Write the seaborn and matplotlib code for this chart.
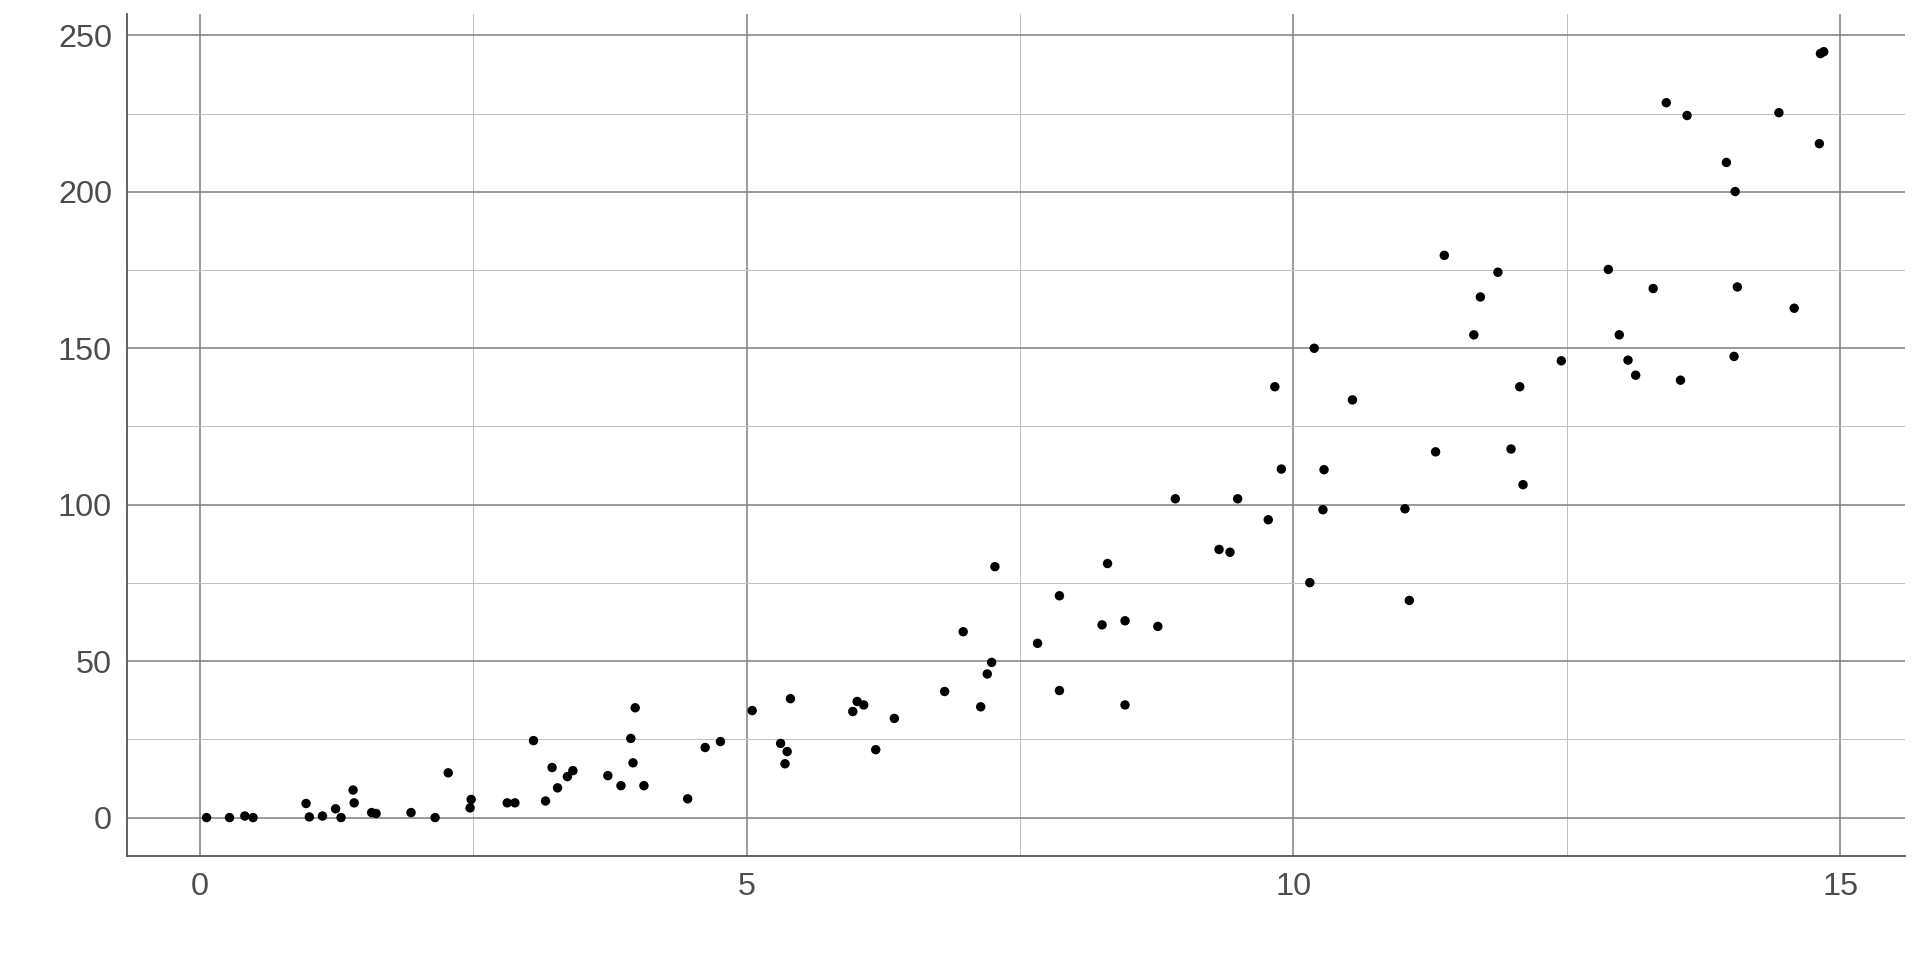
import matplotlib
matplotlib.use("Agg")
import matplotlib.pyplot as plt
from matplotlib.ticker import MultipleLocator
import seaborn as sns
import pandas as pd

x_vals = [0.06, 0.27, 0.41, 0.485, 0.97, 1.00, 1.12, 1.24, 1.29, 1.40, 1.41, 1.57, 1.61, 1.93,
          2.15, 2.27, 2.47, 2.48, 2.81, 2.88, 3.05, 3.16, 3.22, 3.27, 3.36, 3.41, 3.73, 3.85,
          3.94, 3.96, 3.98,
          4.06, 4.46, 4.62, 4.76, 5.05, 5.31, 5.37, 5.35, 5.40, 5.97, 6.01, 6.07, 6.18, 6.35,
          6.81, 6.98, 7.14, 7.20, 7.24, 7.27, 7.66, 7.86, 7.86, 8.25, 8.30, 8.46, 8.46, 8.76,
          8.92, 9.32, 9.42, 9.49, 9.77,
          10.27, 10.15, 11.02, 11.06, 12.10,
          14.82, 14.85, 13.41, 13.60, 14.44, 14.81, 13.96, 14.04, 11.38, 11.87, 11.71, 12.88,
          13.29, 14.06, 14.58, 11.65, 12.98, 10.19, 12.45, 13.06, 14.03, 13.13, 13.54, 9.83,
          10.54, 12.07, 11.30, 11.99, 9.89, 10.28]
y_vals = [0.0, 0.0, 0.5, 0.0, 4.5, 0.2, 0.5, 2.8, 0.0, 8.8, 4.7, 1.6, 1.3, 1.6,
          0.0, 14.3, 3.1, 5.8, 4.7, 4.7, 24.6, 5.3, 16.0, 9.5, 13.1, 15.0, 13.4, 10.2,
          25.3, 17.5, 35.1,
          10.2, 6.0, 22.4, 24.3, 34.2, 23.7, 21.1, 17.2, 38.0, 33.9, 37.1, 36.0, 21.7, 31.7,
          40.3, 59.4, 35.4, 45.9, 49.6, 80.2, 55.7, 70.9, 40.6, 61.6, 81.2, 62.9, 36.0, 61.1,
          101.9, 85.7, 84.8, 101.9, 95.2,
          98.4, 75.1, 98.7, 69.4, 106.4,
          244.2, 244.8, 228.5, 224.4, 225.3, 215.4, 209.4, 200.1, 179.7, 174.3, 166.4, 175.2,
          169.1, 169.6, 162.8, 154.3, 154.3, 150.0, 146.0, 146.2, 147.4, 141.4, 139.8, 137.7,
          133.5, 137.7, 116.9, 117.8, 111.4, 111.2]

x_ticks = [0, 5, 10, 15]
y_ticks = [0, 50, 100, 150, 200, 250]

df = pd.DataFrame({"x": x_vals, "y": y_vals})

sns.set_theme(style="white")
plt.rcParams["font.family"] = ["Liberation Sans", "DejaVu Sans"]

fig = plt.figure(figsize=(19.2, 9.6), dpi=100)
ax = fig.add_axes([0.0663, 0.1086, 0.9257, 0.877])

sns.scatterplot(data=df, x="x", y="y", ax=ax, color="black", s=46,
                edgecolor="none", linewidth=0, zorder=3)

ax.set_xlim(-0.665, 15.59)
ax.set_ylim(-12.2, 256.9)
ax.set_xticks(x_ticks)
ax.set_yticks(y_ticks)
ax.xaxis.set_minor_locator(MultipleLocator(2.5))
ax.yaxis.set_minor_locator(MultipleLocator(25))
ax.grid(which="major", color="#808080", linewidth=1.1, zorder=0)
ax.grid(which="minor", color="#c0c0c0", linewidth=0.7, zorder=0)
ax.set_axisbelow(True)

for side in ["top", "right"]:
    ax.spines[side].set_visible(False)
for side in ["left", "bottom"]:
    ax.spines[side].set_color("#555555")
    ax.spines[side].set_linewidth(1.3)

ax.tick_params(axis="both", which="both", length=0, labelsize=23.3, labelcolor="#4d4d4d")
ax.tick_params(axis="y", pad=11)
ax.tick_params(axis="x", pad=12)
ax.set_xlabel("")
ax.set_ylabel("")

fig.savefig("out.png", dpi=100, facecolor="white")
